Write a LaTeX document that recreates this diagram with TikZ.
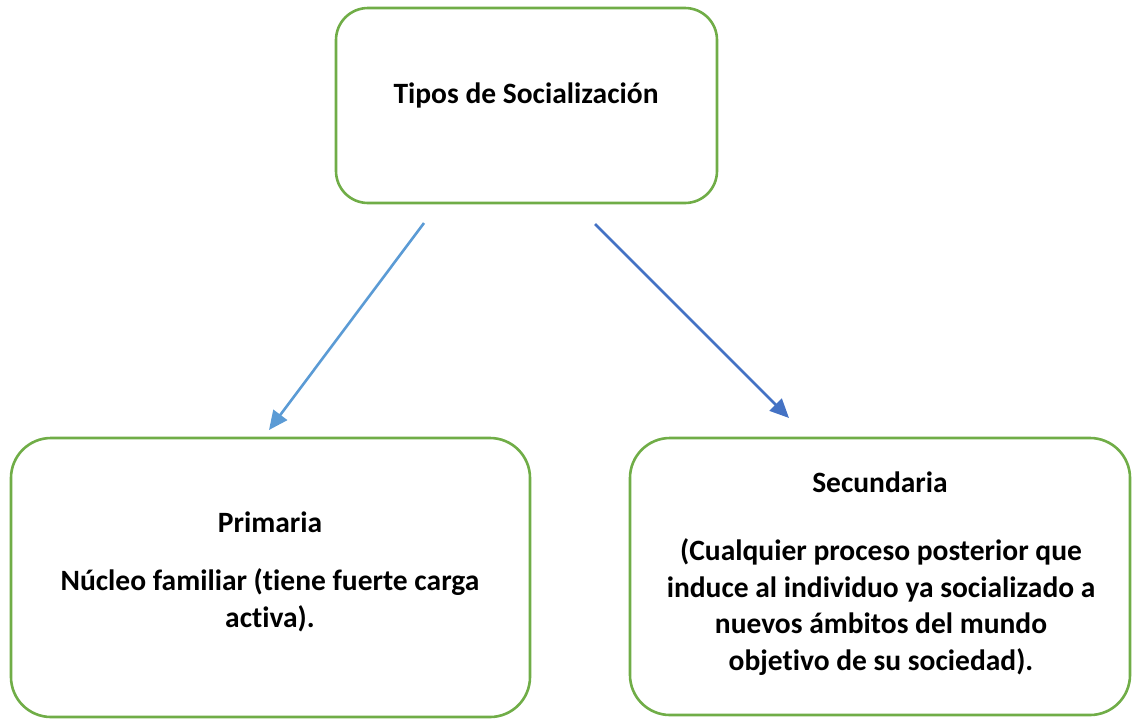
\documentclass[tikz,border=0pt]{standalone}
\usepackage{fontspec}
\setmainfont{Carlito}[Ligatures=NoCommon]
\usetikzlibrary{arrows.meta}
\definecolor{boxgreen}{HTML}{70AD47}
\definecolor{blueA}{HTML}{5B9BD5}
\definecolor{blueB}{HTML}{4472C4}
\tikzset{
  box/.style={draw=boxgreen, line width=2.6pt, rounded corners=40pt, fill=white},
  txt/.style={font=\fontsize{29.5}{37}\selectfont\bfseries, anchor=base, inner sep=0pt},
  conn/.style={line width=2.6pt, -{Triangle[length=19pt,width=17pt]}}
}
\begin{document}
\begin{tikzpicture}[x=1pt,y=-1pt]
\useasboundingbox (0,0) rectangle (1135,721);
\draw[box, rounded corners=32pt] (336,8) rectangle (717,203);
\draw[box] (11,438) rectangle (530,717);
\draw[box] (630,438) rectangle (1130,715);
\node[txt] (t0) at (526,103) {Tipos de Socialización};
\node[txt] (t1) at (270,532) {Primaria};
\node[txt] (t2a) at (270,590) {Núcleo familiar (tiene fuerte carga};
\node[txt] (t2b) at (270,627) {activa).};
\node[txt] (t3) at (880,492) {Secundaria};
\node[txt] (t4a) at (881,560) {(Cualquier proceso posterior que};
\node[txt] (t4b) at (881,597) {induce al individuo ya socializado a};
\node[txt] (t4c) at (881,633) {nuevos ámbitos del mundo};
\node[txt] (t4d) at (881,670) {objetivo de su sociedad).};
\coordinate (a1s) at (424,223);
\coordinate (a1e) at (269,430);
\coordinate (a2s) at (595,224);
\coordinate (a2e) at (789,418);
\draw[conn, blueA] (a1s) -- (a1e);
\draw[conn, blueB] (a2s) -- (a2e);
\end{tikzpicture}
\end{document}
